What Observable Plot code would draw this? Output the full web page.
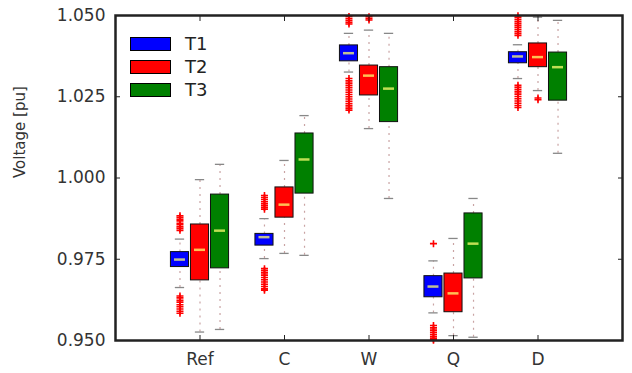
<!DOCTYPE html>
<html>
<head>
<meta charset="utf-8">
<script src="https://cdn.jsdelivr.net/npm/d3@7"></script>
<script src="https://cdn.jsdelivr.net/npm/@observablehq/plot@0.6"></script>
<style>
  body { margin: 0; background: #fff; font-family: "DejaVu Sans", sans-serif; }
  #wrap { position: relative; width: 632px; height: 373px; }
  #legend { position: absolute; left: 130px; top: 32px; }
  .item { display: flex; align-items: center; height: 23px; }
  .sw { width: 39px; height: 12px; border: 1px solid #000; margin-right: 14px; }
  .lab { font-size: 18px; color: #222; }
</style>
</head>
<body>
<div id="wrap"></div>
<script>
const categories = ["Ref", "C", "W", "Q", "D"];
const series = ["T1", "T2", "T3"];
const colors = ["#0000ff", "#ff0000", "#008000"];
const yTicks = [0.950, 0.975, 1.000, 1.025, 1.050];

const t1Low  = [0.9663, 0.9752, 1.0326, 0.9585, 1.0306];
const t1Q1   = [0.9726, 0.9792, 1.0359, 0.9633, 1.0353];
const t1Med  = [0.9749, 0.9818, 1.0384, 0.9666, 1.0374];
const t1Q3   = [0.9772, 0.9828, 1.0408, 0.9698, 1.0387];
const t1High = [0.9812, 0.9875, 1.0445, 0.9745, 1.0410];

const t2Low  = [0.9526, 0.9768, 1.0152, 0.9515, 1.0269];
const t2Q1   = [0.9685, 0.9878, 1.0254, 0.9587, 1.0341];
const t2Med  = [0.9779, 0.9918, 1.0315, 0.9645, 1.0372];
const t2Q3   = [0.9857, 0.9971, 1.0346, 0.9706, 1.0414];
const t2High = [0.9995, 1.0054, 1.0455, 0.9814, 1.0495];

const t3Low  = [0.9534, 0.9762, 0.9937, 0.9510, 1.0076];
const t3Q1   = [0.9722, 0.9952, 1.0172, 0.9691, 1.0238];
const t3Med  = [0.9838, 1.0057, 1.0275, 0.9798, 1.0341];
const t3Q3   = [0.9949, 1.0137, 1.0341, 0.9891, 1.0386];
const t3High = [1.0042, 1.0192, 1.0445, 0.9937, 1.0485];

const t1Fliers = [
  [0.9884, 0.9879, 0.9873, 0.9868, 0.9861, 0.9856, 0.9850, 0.9845, 0.9839, 0.9637, 0.9631, 0.9624, 0.9618, 0.9610, 0.9604, 0.9597, 0.9590, 0.9584],
  [0.9946, 0.9940, 0.9934, 0.9927, 0.9921, 0.9915, 0.9909, 0.9904, 0.9721, 0.9715, 0.9708, 0.9701, 0.9694, 0.9687, 0.9680, 0.9673, 0.9666, 0.9659, 0.9655],
  [1.0497, 1.0491, 1.0485, 1.0479, 1.0474, 1.0306, 1.0299, 1.0292, 1.0285, 1.0278, 1.0271, 1.0264, 1.0257, 1.0250, 1.0243, 1.0236, 1.0229, 1.0222, 1.0215, 1.0209],
  [0.9798, 0.9546, 0.9539, 0.9532, 0.9525, 0.9518, 0.9511, 0.9505, 0.9501],
  [1.0499, 1.0493, 1.0487, 1.0481, 1.0475, 1.0469, 1.0463, 1.0457, 1.0451, 1.0445, 1.0439, 1.0285, 1.0279, 1.0272, 1.0265, 1.0258, 1.0251, 1.0244, 1.0237, 1.0230, 1.0223, 1.0217]
];
const t2Fliers = [[], [], [1.0496, 1.0491, 1.0486], [], [1.0246, 1.0241]];
const t3Fliers = [[], [], [], [], []];

const stats = [
  [t1Low, t1Q1, t1Med, t1Q3, t1High, t1Fliers],
  [t2Low, t2Q1, t2Med, t2Q3, t2High, t2Fliers],
  [t3Low, t3Q1, t3Med, t3Q3, t3High, t3Fliers]
];
const offsets = [-0.237, 0, 0.237];
const halfW = 0.107;

const boxes = [];
const fliers = [];
series.forEach((s, si) => {
  const [lo, q1, md, q3, hi, fl] = stats[si];
  categories.forEach((c, ci) => {
    const pos = ci + 1 + offsets[si];
    boxes.push({cat: c, series: s, color: colors[si], pos, low: lo[ci], q1: q1[ci], med: md[ci], q3: q3[ci], high: hi[ci]});
    fl[ci].forEach(v => fliers.push({pos, v}));
  });
});

const blank = () => "";

const chart = Plot.plot({
  width: 632,
  height: 373,
  marginLeft: 115,
  marginRight: 10,
  marginTop: 15,
  marginBottom: 33,
  style: {fontFamily: "DejaVu Sans, sans-serif", background: "#fff"},
  x: {domain: [0, 6]},
  y: {domain: [0.95, 1.05]},
  marks: [
    // whiskers
    Plot.ruleX(boxes, {x: "pos", y1: "low", y2: "q1", stroke: "#c9a3a3", strokeWidth: 1.2, strokeDasharray: "2,5"}),
    Plot.ruleX(boxes, {x: "pos", y1: "q3", y2: "high", stroke: "#c9a3a3", strokeWidth: 1.2, strokeDasharray: "2,5"}),
    // caps
    Plot.ruleY(boxes, {y: "low", x1: d => d.pos - 0.055, x2: d => d.pos + 0.055, stroke: "#888", strokeWidth: 1.3}),
    Plot.ruleY(boxes, {y: "high", x1: d => d.pos - 0.055, x2: d => d.pos + 0.055, stroke: "#888", strokeWidth: 1.3}),
    // boxes
    Plot.rect(boxes, {x1: d => d.pos - halfW, x2: d => d.pos + halfW, y1: "q1", y2: "q3", fill: "color", stroke: "#111", strokeWidth: 1}),
    // medians
    Plot.ruleY(boxes, {y: "med", x1: d => d.pos - 0.065, x2: d => d.pos + 0.065, stroke: "#ffff70", strokeOpacity: 0.75, strokeWidth: 2.5}),
    // fliers
    Plot.dot(fliers, {x: "pos", y: "v", symbol: "plus", r: 2.4, stroke: "#ff0000", strokeWidth: 1.6}),
    // axes
    Plot.axisY({anchor: "left", ticks: yTicks, tickFormat: d3.format(".3f"), tickSize: 0, tickPadding: 10, fontSize: 17, fill: "#333", label: null}),
    Plot.axisY({anchor: "left", ticks: yTicks, tickFormat: blank, tickSize: -5, stroke: "#222", label: null}),
    Plot.axisY({anchor: "right", ticks: yTicks, tickFormat: blank, tickSize: -5, stroke: "#222", label: null}),
    Plot.axisX({anchor: "bottom", ticks: [1, 2, 3, 4, 5], tickFormat: d => categories[d - 1], tickSize: 0, tickPadding: 12, fontSize: 17, fill: "#333", label: null}),
    Plot.axisX({anchor: "bottom", ticks: [1, 2, 3, 4, 5], tickFormat: blank, tickSize: -5, stroke: "#222", label: null}),
    Plot.axisX({anchor: "top", ticks: [1, 2, 3, 4, 5], tickFormat: blank, tickSize: -5, stroke: "#222", label: null}),
    Plot.text(["Voltage [pu]"], {frameAnchor: "left", dx: -95, rotate: -90, fontSize: 15, fill: "#333"}),
    Plot.frame({stroke: "#222", strokeWidth: 2.5})
  ]
});

const wrap = document.getElementById("wrap");
wrap.appendChild(chart);

const legend = document.createElement("div");
legend.id = "legend";
series.forEach((s, i) => {
  const it = document.createElement("div");
  it.className = "item";
  const sw = document.createElement("div");
  sw.className = "sw";
  sw.style.background = colors[i];
  const lb = document.createElement("span");
  lb.className = "lab";
  lb.textContent = s;
  it.appendChild(sw);
  it.appendChild(lb);
  legend.appendChild(it);
});
wrap.appendChild(legend);
</script>
</body>
</html>
